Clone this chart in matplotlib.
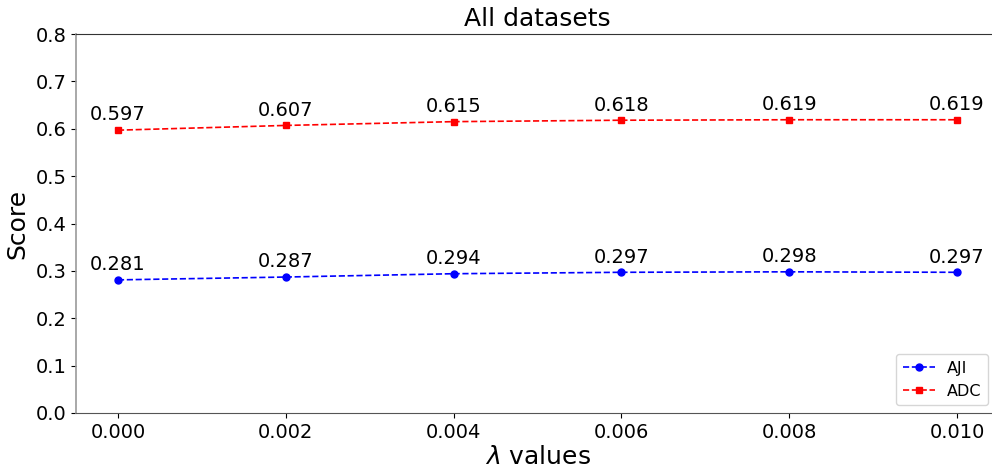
import matplotlib
matplotlib.use("Agg")
import matplotlib.pyplot as plt

# lambda sweep and scores
lambdas = [0.000, 0.002, 0.004, 0.006, 0.008, 0.010]
aji = [0.281, 0.287, 0.294, 0.297, 0.298, 0.297]
adc = [0.597, 0.607, 0.615, 0.618, 0.619, 0.619]
yticks = [0.0, 0.1, 0.2, 0.3, 0.4, 0.5, 0.6, 0.7, 0.8]
xticks = [0.000, 0.002, 0.004, 0.006, 0.008, 0.010]

fig = plt.figure(figsize=(9.92, 4.68), dpi=100)
ax = fig.add_axes([76 / 992, (468 - 413) / 468, (999 - 76) / 992, (413 - 34) / 468])

ax.plot(lambdas, aji, "b--o", markersize=5, linewidth=1.2, label="AJI")
ax.plot(lambdas, adc, "r--s", markersize=5, linewidth=1.2, label="ADC")

for x, y in zip(lambdas, aji):
    ax.annotate(f"{y:.3f}", (x, y), textcoords="offset points", xytext=(0, 7),
                ha="center", fontsize=14)
for x, y in zip(lambdas, adc):
    ax.annotate(f"{y:.3f}", (x, y), textcoords="offset points", xytext=(0, 7),
                ha="center", fontsize=14)

ax.set_ylim(0, 0.8)
ax.set_xlim(-0.0005, 0.0105)
ax.set_yticks(yticks)
ax.set_yticklabels([f"{t:.1f}" for t in yticks])
ax.set_xticks(xticks)
ax.set_xticklabels([f"{t:.3f}" for t in xticks])
ax.tick_params(labelsize=14)

ax.spines["left"].set_color("#999999")
ax.spines["left"].set_linewidth(1.2)
ax.spines["top"].set_color("#333333")
ax.spines["bottom"].set_color("#555555")
ax.spines["right"].set_visible(False)

ax.set_title("All datasets", fontsize=18)
ax.set_xlabel(r"$\lambda$ values", fontsize=18, labelpad=2)
ax.set_ylabel("Score", fontsize=18)
ax.legend(loc="lower right", fontsize=11.5, bbox_to_anchor=(0.997, 0.0))

fig.savefig("out.png", dpi=100)
